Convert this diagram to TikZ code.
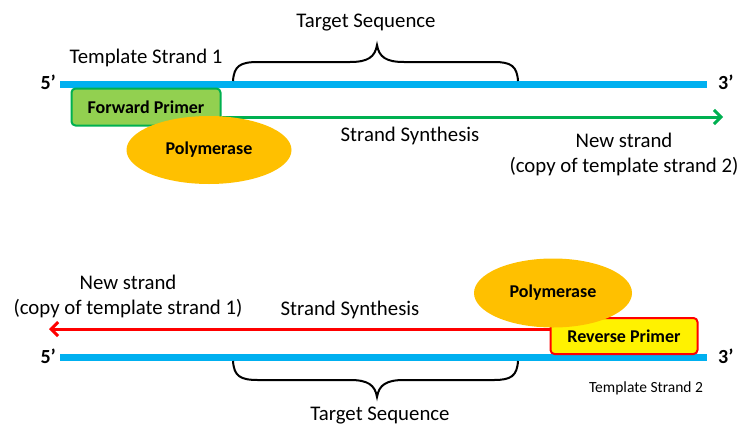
\documentclass[tikz,border=0pt]{standalone}
\usepackage{fontspec}
\setmainfont{Carlito}
\usetikzlibrary{shapes.geometric,arrows.meta}
\definecolor{dnablue}{HTML}{00B0F0}
\definecolor{synthgreen}{HTML}{00B050}
\definecolor{primergreen}{HTML}{92D050}
\definecolor{polyorange}{HTML}{FFC000}
\tikzset{
  strand/.style={line width=7pt, dnablue},
  lbl/.style={font=\fontsize{20.8}{25}\selectfont, inner sep=0pt},
  endlbl/.style={font=\bfseries\fontsize{20}{24}\selectfont, inner sep=0pt},
  primerbox/.style={draw, line width=2pt, rounded corners=4pt, font=\bfseries\fontsize{18}{21}\selectfont, inner sep=0pt},
  polymerase/.style={ellipse, fill=polyorange, inner sep=0pt, font=\bfseries\fontsize{18}{21}\selectfont},
  synth/.style={line width=3pt, -{Straight Barb[length=7pt,width=14pt,line width=3pt]}},
  brace/.style={line width=2pt, black}
}
\begin{document}
\begin{tikzpicture}[x=1pt,y=-1pt]
\useasboundingbox (0,0) rectangle (741,426);
% ---------- top ----------
\coordinate (t1l) at (60,84);
\coordinate (t1r) at (707,84);
\draw[strand] (t1l) -- (t1r);
\node[endlbl, anchor=east] (t5) at (56,82) {5’};
\node[endlbl, anchor=west] (t3) at (718,82) {3’};
\node[lbl] (ts1) at (146,58) {Template Strand 1};
\node[lbl] (tseq1) at (366,23) {Target Sequence};
% brace top
\draw[brace] (233,81) .. controls (234,66) and (240,62) .. (258,62) -- (350,62)
  .. controls (368,62) and (375,57) .. (377,45)
  .. controls (379,57) and (386,62) .. (404,62) -- (494,62)
  .. controls (511,62) and (517,66) .. (518,81);
\node[primerbox, draw=synthgreen, fill=primergreen, minimum width=149pt, minimum height=37pt] (fp) at (146,107) {Forward Primer};
\coordinate (ftip) at (723,117);
\draw[synth, synthgreen] (fp.east |- ftip) -- (ftip);
\node[polymerase, minimum width=165pt, minimum height=68pt] (p1) at (209,150) {Polymerase};
\node[lbl] (ss1) at (410,136) {Strand Synthesis};
\node[lbl, align=center] (ns1) at (624,154) {New strand\\(copy of template strand 2)};
% ---------- bottom ----------
\coordinate (t2l) at (60,357);
\coordinate (t2r) at (707,357);
\draw[strand] (t2l) -- (t2r);
\node[endlbl, anchor=east] (b5) at (56,356) {5’};
\node[endlbl, anchor=west] (b3) at (718,356) {3’};
\node[primerbox, draw=red, fill=yellow, minimum width=147pt, minimum height=36pt] (rp) at (624,336) {Reverse Primer};
\coordinate (rtip) at (49,329);
\draw[synth, red] (rp.west |- rtip) -- (rtip);
\node[polymerase, minimum width=158pt, minimum height=69pt] (p2) at (553,293) {Polymerase};
\node[lbl] (ss2) at (350,310) {Strand Synthesis};
\node[lbl, align=center] (ns2) at (128,296) {New strand\\(copy of template strand 1)};
\node[font=\fontsize{15.5}{18}\selectfont, inner sep=0pt] (ts2) at (646,388) {Template Strand 2};
% brace bottom
\draw[brace] (233,361) .. controls (234,376) and (240,380) .. (258,380) -- (350,380)
  .. controls (368,380) and (375,385) .. (377,397)
  .. controls (379,385) and (386,380) .. (404,380) -- (494,380)
  .. controls (511,380) and (517,376) .. (518,361);
\node[lbl] (tseq2) at (380,416) {Target Sequence};
\end{tikzpicture}
\end{document}
